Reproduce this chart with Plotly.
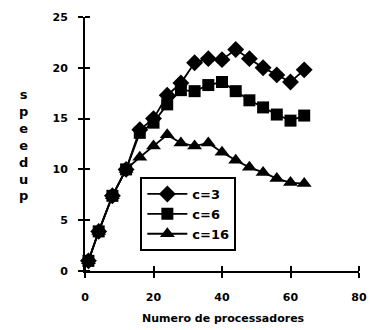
import plotly.graph_objects as go

procs = [1, 4, 8, 12, 16, 20, 24, 28, 32, 36, 40, 44, 48, 52, 56, 60, 64]
speedup_c3 = [1.0, 3.9, 7.4, 10.0, 13.9, 15.0, 17.3, 18.5, 20.5, 20.9, 20.8, 21.8, 20.9, 20.0, 19.3, 18.6, 19.8]
speedup_c6 = [1.0, 3.9, 7.4, 10.0, 13.6, 14.6, 16.4, 17.8, 17.7, 18.3, 18.6, 17.7, 16.8, 16.1, 15.4, 14.8, 15.3]
speedup_c16 = [1.0, 3.9, 7.4, 10.0, 11.2, 12.3, 13.4, 12.6, 12.3, 12.6, 11.7, 10.9, 10.2, 9.7, 9.1, 8.7, 8.6]
series_names = ["c=3", "c=6", "c=16"]
x_ticks = [0, 20, 40, 60, 80]
y_ticks = [0, 5, 10, 15, 20, 25]

FONT = "DejaVu Sans"

fig = go.Figure()
for name, ys, sym, sz in [
    (series_names[0], speedup_c3, "diamond", 13),
    (series_names[1], speedup_c6, "square", 12),
    (series_names[2], speedup_c16, "triangle-up", 13),
]:
    fig.add_trace(go.Scatter(
        x=procs, y=ys, name=name, mode="lines+markers",
        line=dict(color="black", width=1.8),
        marker=dict(symbol=sym, size=sz, color="black"),
        cliponaxis=False,
    ))

axis_font = dict(family=FONT, size=11, color="black", weight="bold")
# inward half of the crossing ticks (tiny offset so plotly does not merge them with major ticks)
x_inner = [v + 1e-6 for v in x_ticks]
y_inner = [v + 1e-7 for v in y_ticks]

fig.update_layout(
    width=378, height=330,
    margin=dict(l=85, r=11, t=17, b=59),
    paper_bgcolor="white", plot_bgcolor="white",
    font=dict(family=FONT, color="black"),
    xaxis=dict(range=[0, 80], tickvals=x_ticks, showgrid=False, zeroline=False,
               showline=True, linecolor="black", linewidth=2,
               ticks="outside", ticklen=5, tickwidth=2, tickcolor="black",
               tickfont=axis_font, ticklabelstandoff=10,
               minor=dict(tickmode="array", tickvals=x_inner, ticks="inside", ticklen=5,
                          tickwidth=2, tickcolor="black", showgrid=False)),
    yaxis=dict(range=[0, 25], tickvals=y_ticks, showgrid=False, zeroline=False,
               showline=True, linecolor="black", linewidth=2,
               ticks="outside", ticklen=5, tickwidth=2, tickcolor="black",
               tickfont=axis_font, ticklabelstandoff=8,
               minor=dict(tickmode="array", tickvals=y_inner, ticks="inside", ticklen=5,
                          tickwidth=2, tickcolor="black", showgrid=False)),
    legend=dict(x=0.202, y=0.37, xanchor="left", yanchor="top",
                bordercolor="black", borderwidth=2, bgcolor="white",
                font=dict(family=FONT, size=13, color="black", weight="bold"),
                itemwidth=40, tracegroupgap=0),
    showlegend=True,
    annotations=[
        dict(text="s<br>p<br>e<br>e<br>d<br>u<br>p", xref="paper", yref="paper",
             x=-0.223, y=0.496, showarrow=False, xanchor="center", yanchor="middle",
             font=dict(family=FONT, size=13, color="black", weight="bold")),
        dict(text="Numero de processadores", xref="paper", yref="paper",
             x=0.507, y=-0.187, showarrow=False, xanchor="center", yanchor="middle",
             font=dict(family=FONT, size=11, color="black", weight="bold")),
    ],
)

fig.write_html("out.html")
